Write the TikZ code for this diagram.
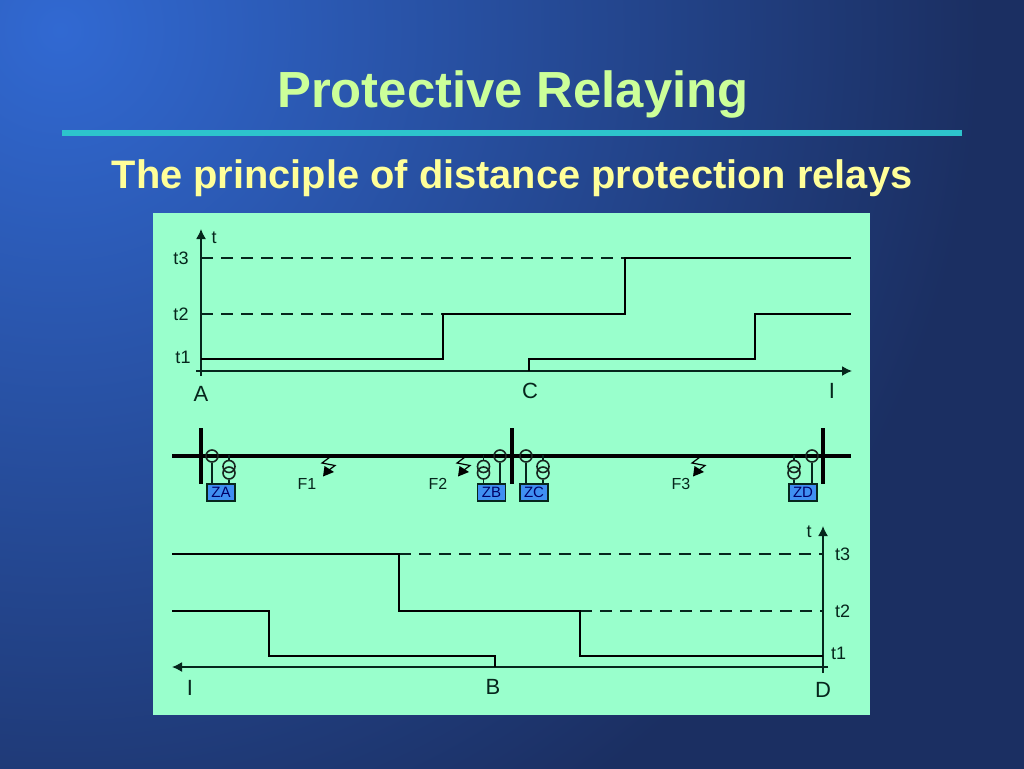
\documentclass[tikz,border=0pt]{standalone}
\usepackage{fontspec}
\setmainfont{Liberation Sans}
\usetikzlibrary{arrows.meta}
\definecolor{bgcorner}{HTML}{3169D2}
\definecolor{bgdark}{HTML}{1B2F62}
\definecolor{panel}{HTML}{99FFCC}
\definecolor{rulecol}{HTML}{2DC4CC}
\definecolor{titlecol}{HTML}{CCFF99}
\definecolor{subcol}{HTML}{FFFF99}
\definecolor{relaycol}{HTML}{3F8FF2}
\definecolor{inkcol}{HTML}{06261C}
\tikzset{
    title/.style = {text = titlecol, anchor = base, font = \fontsize{50.8}{53}\selectfont\bfseries},
    subtitle/.style = {text = subcol, anchor = base, font = \fontsize{39.8}{42}\selectfont\bfseries},
    label/.style = {text = inkcol, font = \fontsize{16}{18}\selectfont, inner sep = 0},
    timelabel/.style = {text = inkcol, font = \fontsize{18}{20}\selectfont, inner sep = 0},
    biglabel/.style = {text = inkcol, font = \fontsize{22}{24}\selectfont, inner sep = 0},
    axis/.style = {draw = inkcol, line width = 1.5pt},
    arrowaxis/.style = {axis, -{Latex[length = 10pt, width = 10pt]}},
    level/.style = {draw = black, line width = 2.6pt},
    limit/.style = {draw = inkcol, line width = 1.1pt, dash pattern = on 12pt off 8pt},
    bus/.style = {draw = black, line width = 4.5pt},
    tapline/.style = {draw = inkcol, line width = 1.3pt},
    coil/.style = {circle, draw = black!85!panel, line width = 1.6pt, minimum size = 12pt, inner sep = 0},
    relay/.style = {draw = inkcol, line width = 1.2pt, fill = relaycol, text = blue!40!black,
        font = \fontsize{15}{16}\selectfont, minimum height = 17pt, minimum width = 28pt, inner sep = 0},
    fault/.style = {draw = black, line width = 1.2pt},
    faulthead/.style = {fill = black}
}
\begin{document}
\begin{tikzpicture}[x = 1pt, y = -1pt]
    \useasboundingbox (0, 0) rectangle (1024, 768);
    \fill[bgdark] (-3, -3) rectangle (1027, 771);
    \begin{scope}
        \clip (-3, -3) rectangle (1027, 771);
        \shade[inner color = bgcorner, outer color = bgdark] (60, 30) circle [radius = 920];
    \end{scope}
    \fill[panel] (153, 213) rectangle (870, 715);
    \node[title] (heading) at (513, 107) {Protective Relaying};
    \fill[rulecol] (62, 130) rectangle (962, 136);
    \node[subtitle] (subheading) at (512, 188) {The principle of distance protection relays};

    % upper time graph
    \coordinate (upperbase) at (201, 376);
    \coordinate (uppertop) at (201, 229);
    \coordinate (upperleft) at (196, 371);
    \coordinate (upperright) at (852, 371);
    \draw[arrowaxis] (upperbase) -- (uppertop);
    \draw[arrowaxis] (upperleft) -- (upperright);
    \draw[limit] (201, 258) -- (625, 258);
    \draw[limit] (201, 314) -- (443, 314);
    \draw[level] (201, 359) -- (443, 359) -- (443, 314) -- (625, 314) -- (625, 258) -- (851, 258);
    \draw[level] (529, 371) -- (529, 359) -- (755, 359) -- (755, 314) -- (851, 314);
    \node[timelabel] (uppert) at (214, 238) {t};
    \node[timelabel] (uppert3) at (181, 258) {t3};
    \node[timelabel] (uppert2) at (181, 314) {t2};
    \node[timelabel] (uppert1) at (183, 357) {t1};
    \node[biglabel] (busA) at (201, 394) {A};
    \node[biglabel] (busC) at (530, 391) {C};
    \node[biglabel] (upperI) at (832, 391) {I};

    % line and bus bars
    \draw[bus] (172, 456) -- (851, 456);
    \foreach \x in {201, 512, 823} {
        \draw[bus] (\x, 428) -- (\x, 484);
    }

    % relays with their current and voltage transformers
    \foreach \name/\bx/\cx/\px in {ZA/221/212/229, ZB/491.5/500/483.5, ZC/534/526/543, ZD/803/812/794} {
        \node[relay] (\name) at (\bx, 492.5) {\name};
        \node[coil] (ct\name) at (\cx, 456) {};
        \node[coil] (ptu\name) at (\px, 466.5) {};
        \node[coil] (ptl\name) at (\px, 473) {};
        \draw[tapline] (ptu\name.north) -- +(0, -5);
        \draw[tapline] (ct\name.south) -- (ct\name.south |- \name.north);
        \draw[tapline] (ptl\name.south) -- (ptl\name.south |- \name.north);
    }

    % fault marks
    \foreach \name/\x/\lx in {F1/330/307, F2/465/438, F3/700/681} {
        \draw[fault] (\x, 457) -- (\x - 8, 463) -- (\x + 5, 465.5) -- (\x - 1, 470);
        \fill[faulthead] (\x - 7, 476.5) -- (\x - 5.5, 466) -- (\x + 4, 472) -- cycle;
        \node[label] (\name) at (\lx, 484) {\name};
    }

    % lower time graph
    \coordinate (lowerbase) at (823, 673);
    \coordinate (lowertop) at (823, 526);
    \coordinate (lowerright) at (828, 667);
    \coordinate (lowerleft) at (172, 667);
    \draw[arrowaxis] (lowerbase) -- (lowertop);
    \draw[arrowaxis] (lowerright) -- (lowerleft);
    \draw[limit] (399, 554) -- (823, 554);
    \draw[limit] (580, 611) -- (823, 611);
    \draw[level] (172, 554) -- (399, 554) -- (399, 611) -- (580, 611) -- (580, 656) -- (823, 656);
    \draw[level] (172, 611) -- (269, 611) -- (269, 656) -- (495, 656) -- (495, 667);
    \node[timelabel] (lowert) at (809, 532) {t};
    \node[timelabel] (lowert3) at (842.5, 554) {t3};
    \node[timelabel] (lowert2) at (842.5, 611) {t2};
    \node[timelabel] (lowert1) at (838.5, 653) {t1};
    \node[biglabel] (lowerI) at (190, 688) {I};
    \node[biglabel] (busB) at (493, 687) {B};
    \node[biglabel] (busD) at (823, 690) {D};
\end{tikzpicture}
\end{document}
